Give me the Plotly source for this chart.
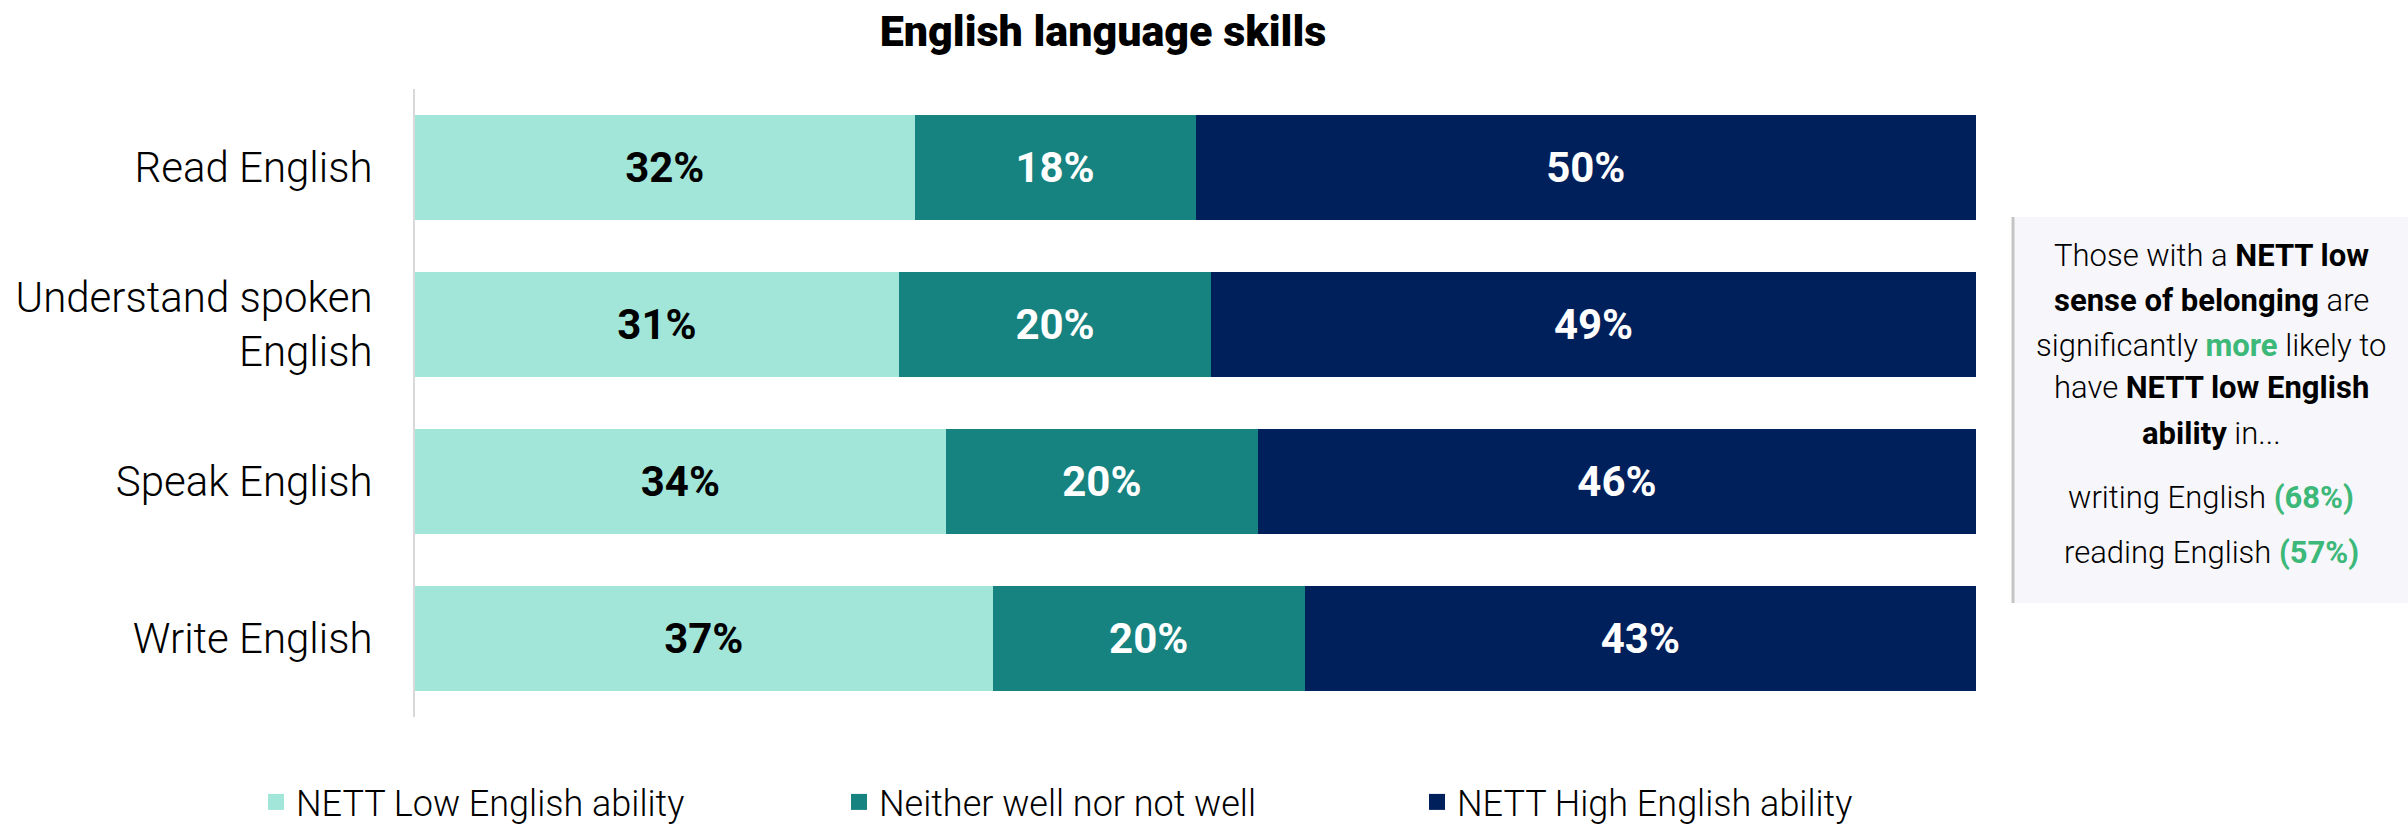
import plotly.graph_objects as go

# Survey results: self-rated English ability by skill
skills = ["Read English", "Understand spoken<br>English", "Speak English", "Write English"]
low_ability = [32, 31, 34, 37]
neither = [18, 20, 20, 20]
high_ability = [50, 49, 46, 43]

series_names = ["NETT Low English ability", "Neither well nor not well", "NETT High English ability"]
series_colors = ["#A1E6D9", "#178380", "#00205B"]
label_colors = ["#000000", "#FFFFFF", "#FFFFFF"]

W, H = 2408, 827
M_L, M_R, M_T, M_B = 415, 432, 89, 110
PLOT_W = W - M_L - M_R
PLOT_H = H - M_T - M_B


def px_x(px):
    return (px - M_L) / PLOT_W


def px_y(py):
    return (H - M_B - py) / PLOT_H


legend_ids = ["legend", "legend2", "legend3"]
legend_left_px = [256, 839, 1417]

fig = go.Figure()
for name, vals, color, tcolor, lg in zip(series_names, [low_ability, neither, high_ability],
                                         series_colors, label_colors, legend_ids):
    fig.add_trace(go.Bar(
        y=skills, x=vals, orientation="h", name=name,
        marker=dict(color=color, line=dict(width=0)),
        texttemplate="%{x:.0f}%", textposition="inside", insidetextanchor="middle",
        textfont=dict(family="Roboto", size=42, color=tcolor, weight="bold"),
        constraintext="none", showlegend=False, hoverinfo="skip",
    ))
    # legend swatch
    fig.add_trace(go.Scatter(
        x=[None], y=[None], mode="markers", name=name, legend=lg,
        marker=dict(symbol="square", size=20, color=color),
        showlegend=True,
    ))

legend_style = dict(orientation="h", xref="container", xanchor="left",
                    yref="container", y=1 - 802 / H, yanchor="middle",
                    itemsizing="trace",
                    font=dict(family="Roboto", size=36, color="#000000", weight=300),
                    bgcolor="rgba(0,0,0,0)")

fig.update_layout(
    width=W, height=H,
    barmode="stack", bargap=0.33,
    plot_bgcolor="white", paper_bgcolor="white",
    margin=dict(l=M_L, r=M_R, t=M_T, b=M_B, pad=0),
    font=dict(family="Roboto", color="#000000"),
    title=dict(text="English language skills", x=1103 / W, xanchor="center", xref="container",
               y=1 - 31 / H, yanchor="middle", yref="container",
               font=dict(family="Roboto", size=43, color="#000000", weight=900)),
    xaxis=dict(range=[0, 100], visible=False, fixedrange=True),
    yaxis=dict(categoryorder="array", categoryarray=skills, autorange="reversed",
               showline=True, linecolor="#D9D9D9", linewidth=2, showgrid=False,
               ticks="outside", ticklen=32, tickcolor="rgba(0,0,0,0)",
               tickfont=dict(family="Roboto", size=42, color="#000000", weight=300)),
    legend=dict(x=legend_left_px[0] / W, **legend_style),
    legend2=dict(x=legend_left_px[1] / W, **legend_style),
    legend3=dict(x=legend_left_px[2] / W, **legend_style),
)

# call-out panel on the right
box_l, box_r, box_t, box_b = 2013, W, 217, 603
fig.add_shape(type="rect", xref="paper", yref="paper",
              x0=px_x(box_l), x1=px_x(box_r), y0=px_y(box_b), y1=px_y(box_t),
              fillcolor="#F7F6FB", line=dict(width=0), layer="below")
fig.add_shape(type="line", xref="paper", yref="paper",
              x0=px_x(box_l), x1=px_x(box_l), y0=px_y(box_b), y1=px_y(box_t),
              line=dict(color="#C4C4C4", width=3))

GREEN = "#3CB878"
callout_lines = [
    ("Those with a <b>NETT low</b>", 255),
    ("<b>sense of belonging</b> are", 300),
    (f"significantly <b><span style='color:{GREEN}'>more</span></b> likely to", 345),
    ("have <b>NETT low English</b>", 388),
    ("<b>ability</b> in...", 433),
    (f"writing English <b><span style='color:{GREEN}'>(68%)</span></b>", 497),
    (f"reading English <b><span style='color:{GREEN}'>(57%)</span></b>", 552),
]
for text, py in callout_lines:
    fig.add_annotation(text=text, xref="paper", yref="paper",
                       x=px_x(2211), y=px_y(py), xanchor="center", yanchor="middle",
                       showarrow=False,
                       font=dict(family="Roboto", size=31, color="#000000", weight=300))

fig.write_html("out.html")
